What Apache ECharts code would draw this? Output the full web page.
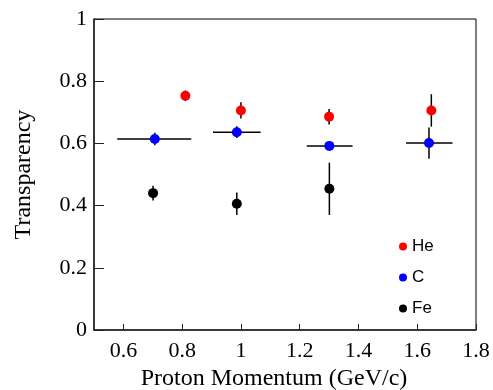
<!DOCTYPE html>
<html>
<head>
<meta charset="utf-8">
<script src="https://cdn.jsdelivr.net/npm/echarts@6/dist/echarts.min.js"></script>
<style>
  html, body { margin: 0; padding: 0; background: #fff; }
  #chart { width: 493px; height: 390px; }
</style>
</head>
<body>
<div id="chart"></div>
<script>
// values
const heX = [0.811, 1.0, 1.30, 1.648]
const heY = [0.753, 0.706, 0.686, 0.706]
const heErr = [0.017, 0.026, 0.025, 0.052]

const cX = [0.707, 0.986, 1.301, 1.640]
const cY = [0.614, 0.636, 0.592, 0.601]
const cErr = [0.02, 0.019, 0.012, 0.05]
const cXLo = [0.579, 0.905, 1.224, 1.562]
const cXHi = [0.831, 1.067, 1.380, 1.720]

const feX = [0.701, 0.986, 1.301]
const feY = [0.44, 0.406, 0.454]
const feErr = [0.024, 0.036, 0.084]

const xTicks = [0.6, 0.8, 1, 1.2, 1.4, 1.6, 1.8]

const serif = 'Liberation Serif'

// [x, y, yLo, yHi, xLo, xHi]
function errRows(xs, ys, errs, xLo, xHi) {
  return xs.map((x, i) => [
    x, ys[i], ys[i] - errs[i], ys[i] + errs[i],
    xLo ? xLo[i] : x, xHi ? xHi[i] : x,
  ])
}

function renderErr(params, api) {
  const lo = api.coord([api.value(0), api.value(2)])
  const hi = api.coord([api.value(0), api.value(3)])
  const l = api.coord([api.value(4), api.value(1)])
  const r = api.coord([api.value(5), api.value(1)])
  const style = { stroke: '#000', lineWidth: 1.5 }
  return {
    type: 'group',
    children: [
      { type: 'line', shape: { x1: lo[0], y1: lo[1], x2: hi[0], y2: hi[1] }, style },
      { type: 'line', shape: { x1: l[0], y1: l[1], x2: r[0], y2: r[1] }, style },
    ],
  }
}

const errSeries = (rows) => ({
  type: 'custom',
  renderItem: renderErr,
  data: rows,
  encode: { x: 0, y: 1 },
  silent: true,
  z: 1,
})

const pointSeries = (name, color, xs, ys) => ({
  name,
  type: 'scatter',
  data: xs.map((x, i) => [x, ys[i]]),
  symbol: 'circle',
  symbolSize: 10,
  itemStyle: { color, opacity: 1 },
  z: 3,
})

const chart = echarts.init(document.getElementById('chart'), null, { renderer: 'canvas' })

chart.setOption({
  animation: false,
  backgroundColor: '#fff',
  grid: {
    left: 94, right: 17, top: 19, bottom: 60,
    outerBoundsMode: 'none',
    containLabel: false,
    show: true, borderColor: '#000', borderWidth: 1,
  },
  legend: {
    data: ['He', 'C', 'Fe'],
    orient: 'vertical',
    left: 394,
    top: 233,
    icon: 'circle',
    itemWidth: 8,
    itemHeight: 8,
    itemGap: 14,
    textStyle: { fontFamily: 'Liberation Sans', fontSize: 17, color: '#000' },
  },
  xAxis: {
    type: 'value',
    min: 0.5,
    max: 1.8,
    name: 'Proton Momentum (GeV/c)',
    nameLocation: 'middle',
    nameGap: 36,
    nameTextStyle: { fontFamily: serif, fontSize: 24, color: '#000', padding: [0, 22, 0, 0] },
    axisLine: { lineStyle: { color: '#222', width: 1.5 } },
    axisTick: { show: true, inside: true, length: 6, customValues: xTicks, lineStyle: { color: '#222', width: 1 } },
    axisLabel: {
      customValues: xTicks,
      margin: 10,
      fontFamily: serif, fontSize: 22, color: '#000',
    },
    splitLine: { show: false },
  },
  yAxis: {
    type: 'value',
    min: 0,
    max: 1,
    interval: 0.2,
    name: 'Transparency',
    nameLocation: 'middle',
    nameGap: 58,
    nameTextStyle: { fontFamily: serif, fontSize: 24, color: '#000' },
    axisLine: { show: true, lineStyle: { color: '#222', width: 1.5 } },
    axisTick: { show: true, inside: true, length: 10, lineStyle: { color: '#222', width: 1 } },
    axisLabel: {
      margin: 7,
      fontFamily: serif, fontSize: 22, color: '#000',
    },
    splitLine: { show: false },
  },
  series: [
    errSeries(errRows(heX, heY, heErr)),
    errSeries(errRows(cX, cY, cErr, cXLo, cXHi)),
    errSeries(errRows(feX, feY, feErr)),
    pointSeries('He', '#ff0000', heX, heY),
    pointSeries('C', '#0000ff', cX, cY),
    pointSeries('Fe', '#000000', feX, feY),
  ],
})
</script>
</body>
</html>
